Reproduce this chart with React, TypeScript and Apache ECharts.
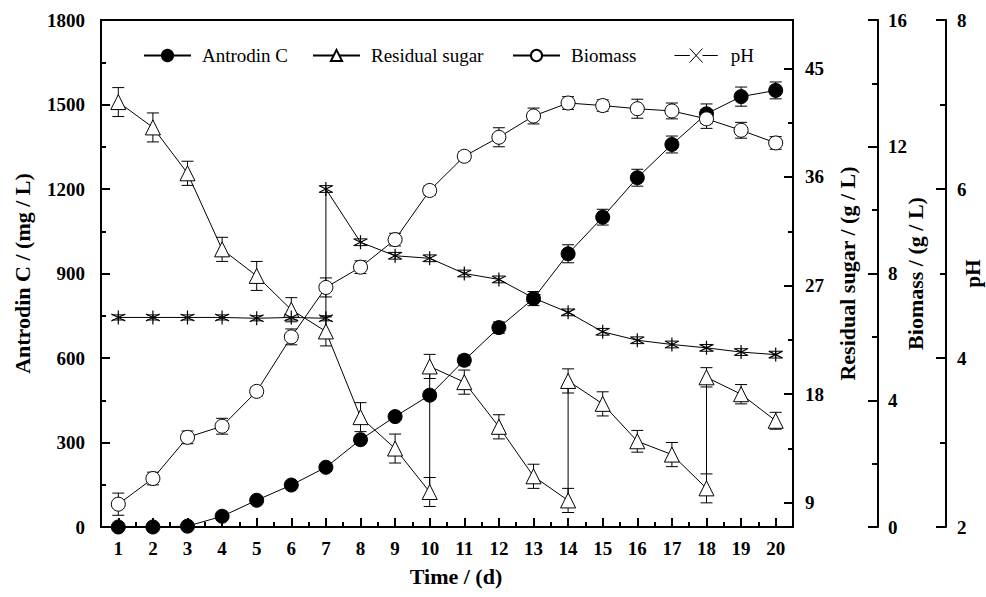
import React, { useEffect, useRef } from 'react';
import * as echarts from 'echarts';

const days = ['1','2','3','4','5','6','7','8','9','10','11','12','13','14','15','16','17','18','19','20'];
const antrodin = [0, 0, 3, 38, 95, 149, 212, 310, 392, 468, 592, 708, 811, 970, 1100, 1240, 1358, 1467, 1528, 1550];
const antrodinErr = [3, 3, 3, 5, 6, 6, 8, 10, 12, 15, 18, 20, 25, 32, 28, 30, 30, 35, 34, 30];
const biomass = [0.72, 1.53, 2.83, 3.18, 4.28, 6.0, 7.56, 8.2, 9.07, 10.62, 11.7, 12.3, 12.97, 13.38, 13.3, 13.2, 13.13, 12.88, 12.52, 12.12];
const biomassErr = [0.35, 0.2, 0.2, 0.25, 0.15, 0.25, 0.3, 0.2, 0.2, 0.15, 0.15, 0.3, 0.25, 0.2, 0.18, 0.3, 0.25, 0.3, 0.25, 0.2];
const sugarDays = ['1','2','3','4','5','6','7','8','9','10','10','11','12','13','14','14','15','16','17','18','18','19','20'];
const sugar = [42.2, 40.1, 36.3, 30.0, 27.8, 25.0, 23.2, 16.1, 13.5, 9.9, 20.3, 19.0, 15.3, 11.2, 9.2, 19.1, 17.2, 14.1, 13.0, 10.2, 19.4, 18.0, 15.8];
const sugarErr = [1.2, 1.2, 1.0, 1.0, 1.2, 1.0, 1.2, 1.2, 1.2, 1.2, 1.0, 1.0, 1.0, 1.0, 1.0, 1.0, 1.0, 0.9, 1.0, 1.2, 0.8, 0.8, 0.7];
const phDays = ['1','2','3','4','5','6','7','7','8','9','10','11','12','13','14','15','16','17','18','19','20'];
const ph = [4.48, 4.48, 4.48, 4.48, 4.47, 4.48, 4.47, 6.0, 5.37, 5.21, 5.18, 5.0, 4.93, 4.71, 4.54, 4.31, 4.21, 4.16, 4.12, 4.07, 4.04];
const phErr = [0.03, 0.03, 0.03, 0.03, 0.03, 0.03, 0.03, 0.04, 0.04, 0.04, 0.04, 0.04, 0.04, 0.04, 0.04, 0.04, 0.04, 0.04, 0.04, 0.04, 0.04];
const sugarMajorTicks = [9, 18, 27, 36, 45];
const sugarMinorTicks = [13.5, 22.5, 31.5, 40.5];

const FONT = '"Liberation Serif", "Times New Roman", serif';
const ASTERISK = 'path://M5,0L5,10M0.7,2.5L9.3,7.5M0.7,7.5L9.3,2.5';
const CROSS_ICON = 'path://M0,6L12,6M22,6L34,6M12,0.5L22,11.5M12,11.5L22,0.5';

const errRender = (params: any, api: any) => {
  const x = api.value(0);
  const lo = api.coord([x, api.value(1)]);
  const hi = api.coord([x, api.value(2)]);
  const w = 6;
  const style = { stroke: '#000', lineWidth: 1 };
  return {
    type: 'group',
    children: [
      { type: 'line', shape: { x1: lo[0], y1: lo[1], x2: hi[0], y2: hi[1] }, style },
      { type: 'line', shape: { x1: lo[0] - w, y1: lo[1], x2: lo[0] + w, y2: lo[1] }, style },
      { type: 'line', shape: { x1: hi[0] - w, y1: hi[1], x2: hi[0] + w, y2: hi[1] }, style },
    ],
  };
};

const errSeries = (xs: string[], vals: number[], errs: number[], yAxisIndex: number) => ({
  type: 'custom',
  xAxisIndex: 0,
  yAxisIndex,
  renderItem: errRender,
  encode: { x: 0, y: [1, 2] },
  data: xs.map((d, i) => [d, vals[i] - errs[i], vals[i] + errs[i]]),
  z: 1,
  silent: true,
});

const plain = (v: number) => String(v);
const tickLabel = { fontFamily: FONT, fontSize: 19, fontWeight: 'bold', color: '#000', formatter: plain };
const nameStyle = { fontFamily: FONT, fontSize: 22, fontWeight: 'bold', color: '#000' };
const axisLine = { show: true, lineStyle: { color: '#000', width: 2 } };

const legendBase = (name: string, left: number, extra: any = {}) => ({
  data: [{ name, ...extra }],
  left,
  top: 41,
  itemWidth: 47,
  itemHeight: 14,
  textStyle: { fontFamily: FONT, fontSize: 19, color: '#000', padding: [0, 0, 0, 6] },
  selectedMode: false,
});

export default function App() {
  const ref = useRef<HTMLDivElement>(null);
  useEffect(() => {
    if (!ref.current) return;
    const chart = echarts.init(ref.current, undefined, { renderer: 'svg' });
    const option: any = {
      animation: false,
      backgroundColor: '#fff',
      grid: {
        left: 101, right: 193, top: 20, bottom: 70,
        show: true, borderColor: '#000', borderWidth: 2, backgroundColor: 'transparent',
        outerBoundsMode: 'none',
      },
      legend: [
        legendBase('Antrodin C', 138),
        legendBase('Residual sugar', 307),
        legendBase('Biomass', 507),
        legendBase('pH', 667, { icon: CROSS_ICON, itemStyle: { color: 'none', borderColor: '#000', borderWidth: 1 } }),
      ],
      xAxis: [
        {
          type: 'category', data: days, position: 'bottom', boundaryGap: true,
          axisLine,
          axisTick: { show: true, inside: true, alignWithLabel: true, length: 9, lineStyle: { color: '#000', width: 2 } },
          axisLabel: { ...tickLabel, margin: 12, formatter: undefined },
          splitLine: { show: false },
          name: 'Time / (d)', nameLocation: 'middle', nameGap: 38, nameMoveOverlap: false,
          nameTextStyle: { ...nameStyle, padding: [0, 0, 0, 18] },
        },
        {
          type: 'category', data: days, position: 'bottom', boundaryGap: true,
          axisLine: { show: false },
          axisTick: { show: true, inside: true, alignWithLabel: false, length: 5, lineStyle: { color: '#000', width: 2 } },
          axisLabel: { show: false },
          splitLine: { show: false },
        },
      ],
      yAxis: [
        {
          type: 'value', position: 'left', min: 0, max: 1800, interval: 300,
          axisLine,
          axisTick: { show: true, inside: true, length: 9, lineStyle: { color: '#000', width: 2 } },
          minorTick: { show: true, splitNumber: 2, length: 5, lineStyle: { color: '#000', width: 2 } },
          axisLabel: { ...tickLabel, margin: 16 },
          splitLine: { show: false },
          name: 'Antrodin C / (mg / L)', nameLocation: 'middle', nameGap: 68, nameRotate: 90, nameMoveOverlap: false,
          nameTextStyle: nameStyle,
        },
        {
          type: 'value', position: 'right', offset: 0, min: 7, max: 49,
          axisLine,
          axisTick: { show: true, inside: true, length: 9, customValues: sugarMajorTicks, lineStyle: { color: '#000', width: 2 } },
          axisLabel: { ...tickLabel, margin: 12, customValues: sugarMajorTicks },
          splitLine: { show: false },
          name: 'Residual sugar / (g / L)', nameLocation: 'middle', nameGap: 43, nameRotate: 90, nameMoveOverlap: false,
          nameTextStyle: nameStyle,
        },
        {
          type: 'value', position: 'right', offset: 85, min: 0, max: 16, interval: 4,
          axisLine,
          axisTick: { show: true, inside: true, length: 10, lineStyle: { color: '#000', width: 2 } },
          minorTick: { show: true, splitNumber: 2, length: 6, lineStyle: { color: '#000', width: 2 } },
          axisLabel: { ...tickLabel, margin: 10 },
          splitLine: { show: false },
          name: 'Biomass / (g / L)', nameLocation: 'middle', nameGap: 26, nameRotate: 90, nameMoveOverlap: false,
          nameTextStyle: nameStyle,
        },
        {
          type: 'value', position: 'right', offset: 153, min: 2, max: 8, interval: 2,
          axisLine,
          axisTick: { show: true, inside: true, length: 10, lineStyle: { color: '#000', width: 2 } },
          minorTick: { show: true, splitNumber: 2, length: 6, lineStyle: { color: '#000', width: 2 } },
          axisLabel: { ...tickLabel, margin: 11 },
          splitLine: { show: false },
          name: 'pH', nameLocation: 'middle', nameGap: 16, nameRotate: 90, nameMoveOverlap: false,
          nameTextStyle: { ...nameStyle, fontSize: 21 },
        },
        {
          type: 'value', position: 'right', offset: 0, min: 7, max: 49,
          axisLine: { show: false },
          axisTick: { show: true, inside: true, length: 5, customValues: sugarMinorTicks, lineStyle: { color: '#000', width: 2 } },
          axisLabel: { show: false, customValues: sugarMinorTicks },
          splitLine: { show: false },
        },
      ],
      series: [
        errSeries(days, antrodin, antrodinErr, 0),
        errSeries(sugarDays, sugar, sugarErr, 1),
        errSeries(days, biomass, biomassErr, 2),
        errSeries(phDays, ph, phErr, 3),
        {
          name: 'Antrodin C', type: 'line', xAxisIndex: 0, yAxisIndex: 0, z: 3,
          data: days.map((d, i) => [d, antrodin[i]]),
          symbol: 'circle', symbolSize: 14,
          itemStyle: { color: '#000', borderColor: '#000', borderWidth: 1 },
          lineStyle: { color: '#000', width: 1 },
        },
        {
          name: 'Residual sugar', type: 'line', xAxisIndex: 0, yAxisIndex: 1, z: 3,
          data: sugarDays.map((d, i) => [d, sugar[i]]),
          symbol: 'triangle', symbolSize: 15,
          itemStyle: { color: '#fff', borderColor: '#000', borderWidth: 1 },
          lineStyle: { color: '#000', width: 1 },
        },
        {
          name: 'Biomass', type: 'line', xAxisIndex: 0, yAxisIndex: 2, z: 3,
          data: days.map((d, i) => [d, biomass[i]]),
          symbol: 'circle', symbolSize: 14,
          itemStyle: { color: '#fff', borderColor: '#000', borderWidth: 1 },
          lineStyle: { color: '#000', width: 1 },
        },
        {
          name: 'pH', type: 'line', xAxisIndex: 0, yAxisIndex: 3, z: 3,
          data: phDays.map((d, i) => [d, ph[i]]),
          symbol: ASTERISK, symbolSize: 14,
          itemStyle: { color: '#000', borderColor: '#000', borderWidth: 1.2 },
          lineStyle: { color: '#000', width: 1 },
        },
      ],
    };
    chart.setOption(option);
    return () => chart.dispose();
  }, []);
  return <div ref={ref} style={{ position: 'fixed', left: 0, top: 0, width: 986, height: 597 }} />;
}
